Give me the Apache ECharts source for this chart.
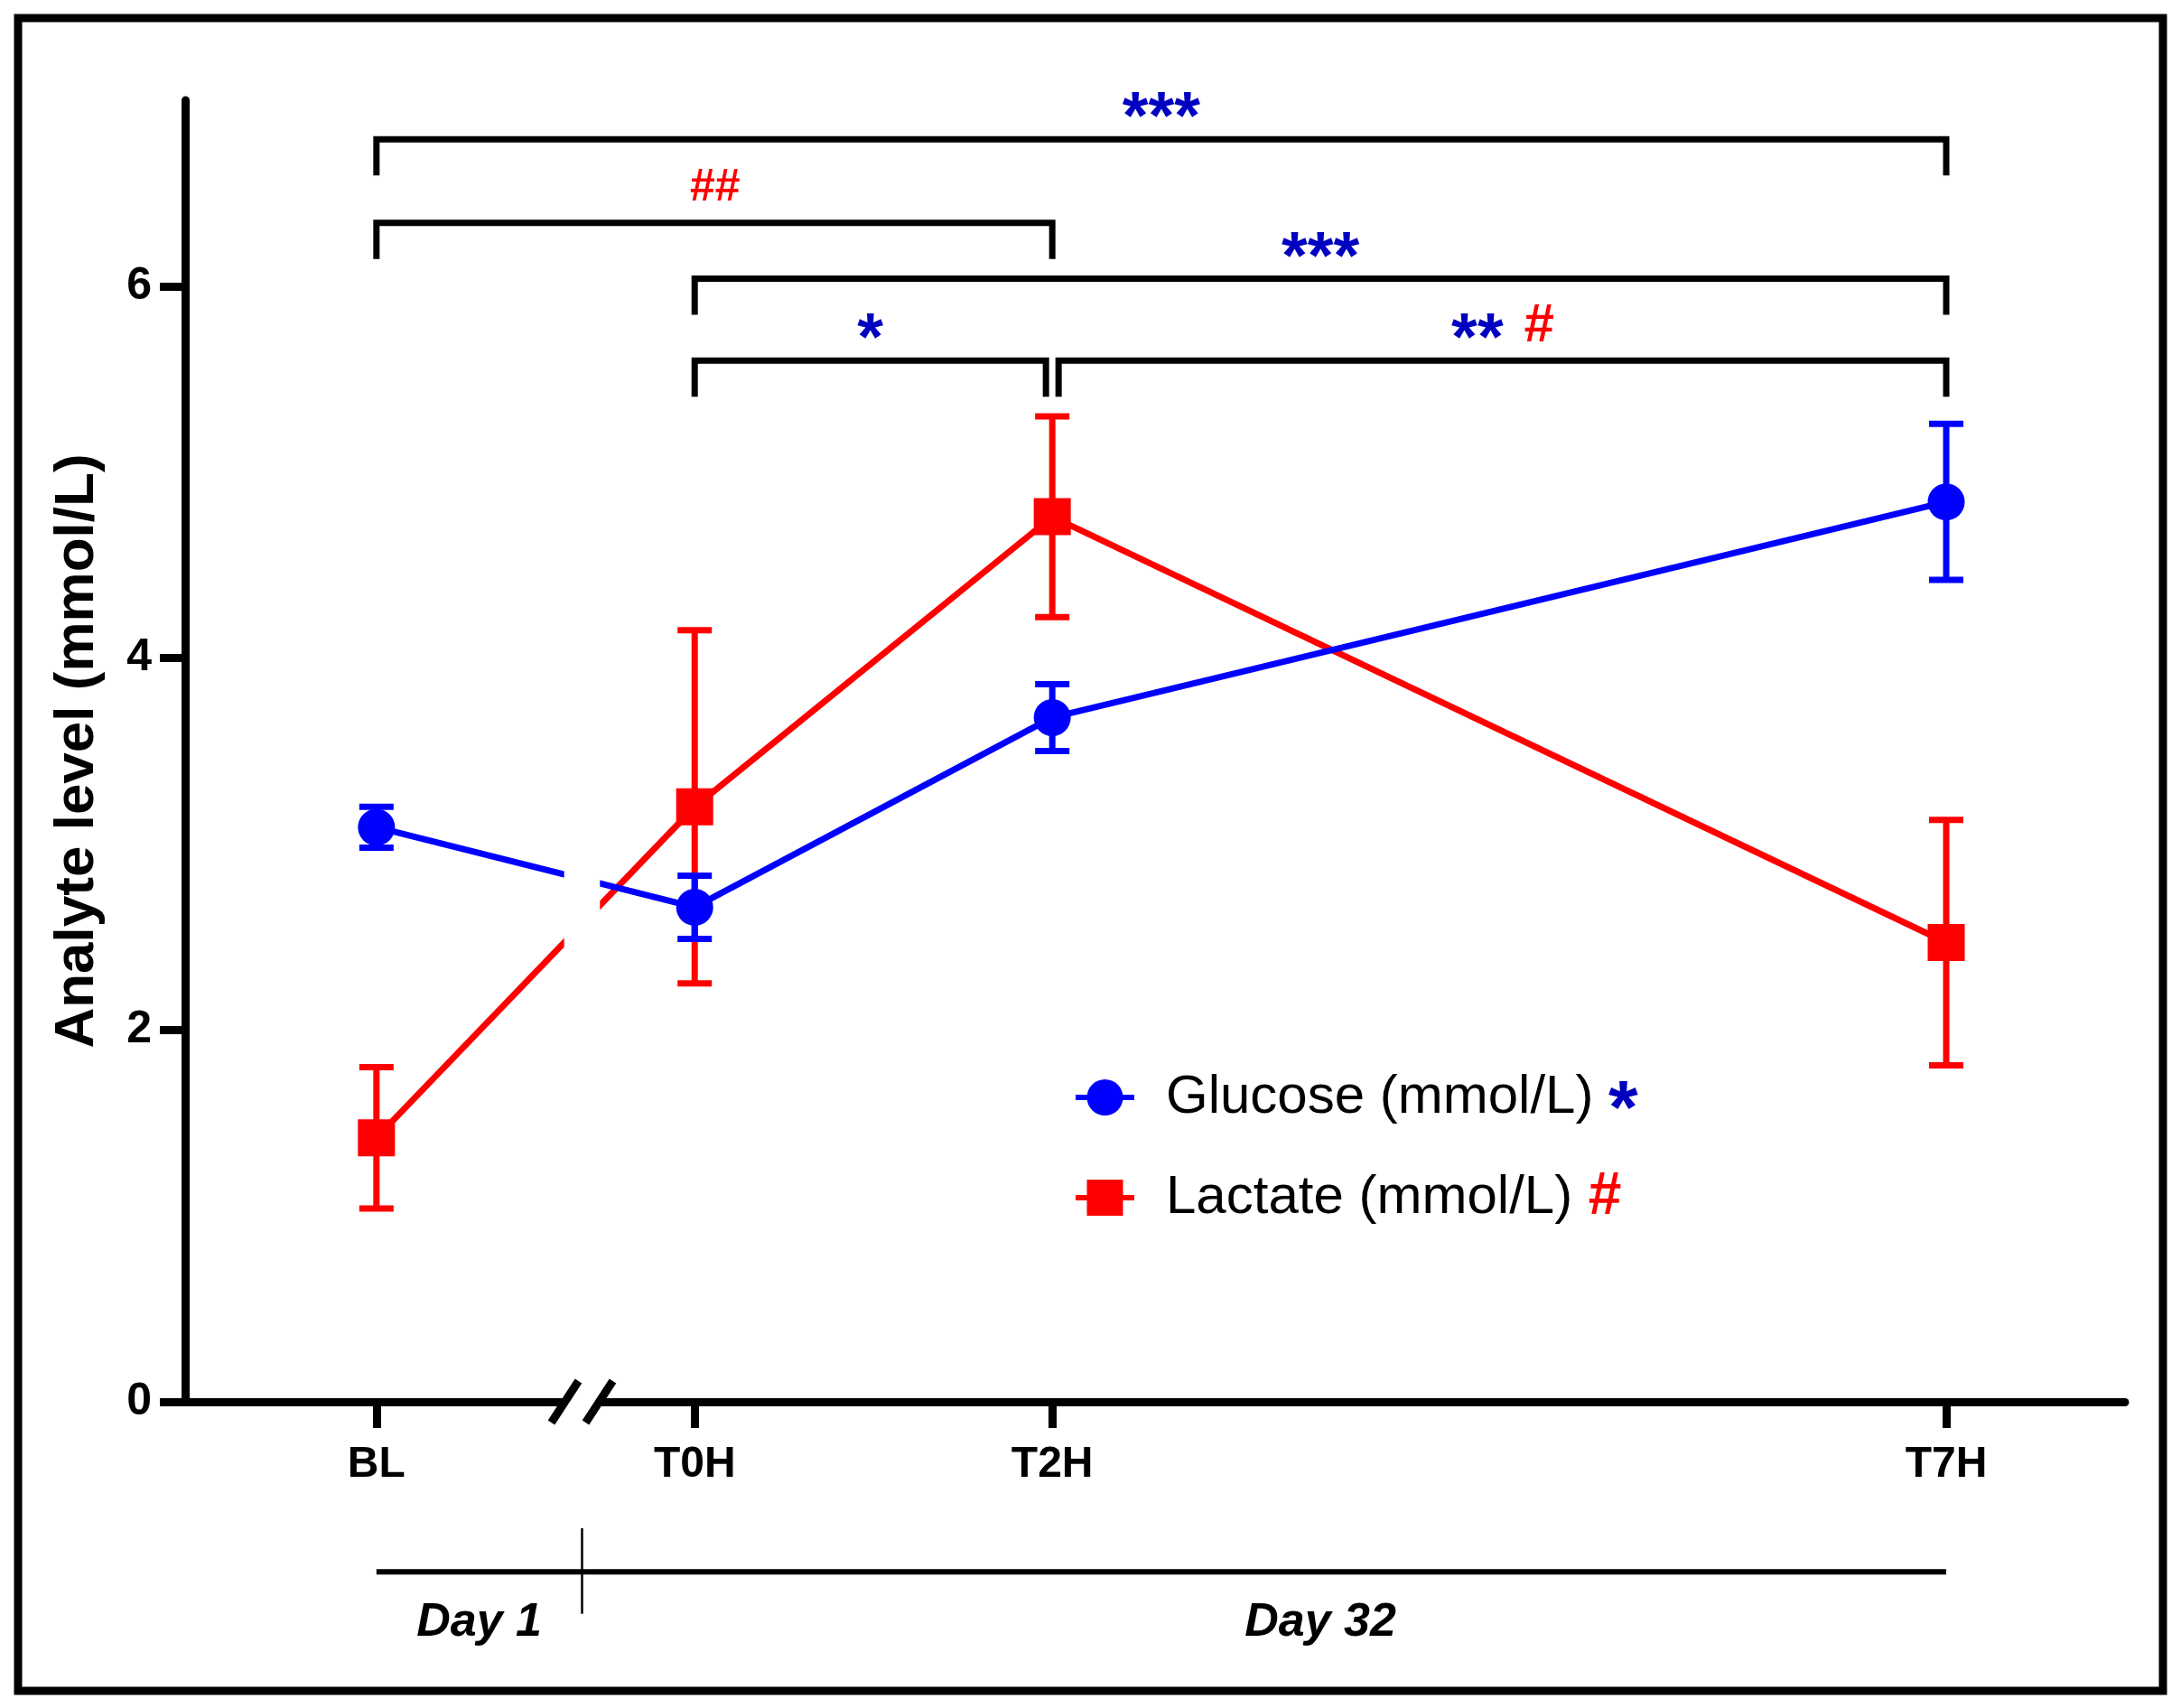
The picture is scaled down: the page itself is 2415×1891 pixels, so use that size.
<!DOCTYPE html>
<html>
<head>
<meta charset="utf-8">
<script src="https://cdn.jsdelivr.net/npm/echarts@6/dist/echarts.min.js"></script>
<style>
html,body{margin:0;padding:0;background:#fff;}
#chart{width:2415px;height:1891px;}
</style>
</head>
<body>
<div id="chart"></div>
<script>
// ---------- data ----------
const timeLabels = ['BL', 'T0H', 'T2H', 'T7H'];
const timeHours = [-1.78, 0, 2, 7];
const glucoseMean = [3.09, 2.66, 3.68, 4.84];
const glucoseSem = [0.11, 0.17, 0.18, 0.42];
const lactateMean = [1.42, 3.20, 4.76, 2.47];
const lactateSem = [0.38, 0.95, 0.54, 0.66];
const yTicks = [0, 2, 4, 6];
const bracketFrom = ['BL', 'BL', 'T0H', 'T0H', 'T2H'];
const bracketTo = ['T7H', 'T2H', 'T7H', 'T2H', 'T7H'];
const bracketLevel = [6.79, 6.34, 6.04, 5.60, 5.60];
const bracketMarks = [[['***', 'g']], [['##', 'l']], [['***', 'g']], [['*', 'g']], [['**', 'g'], ['#', 'l']]];
const periodLabels = ['Day 1', 'Day 32'];
const breakHour = -0.63;
const seriesNames = ['Glucose (mmol/L)', 'Lactate (mmol/L)'];

// ---------- styling ----------
const FONT = "'Liberation Sans', Arial, sans-serif";
const BLUE = '#0000ff', RED = '#ff0000', STAR = '#0000c0';
const hourOf = l => timeHours[timeLabels.indexOf(l)];

const mctx = document.createElement('canvas').getContext('2d');
function measure(text, font) { mctx.font = font; return mctx.measureText(text).width; }

function markStyle(kind, multi) {
  if (kind === 'g') return { fill: STAR, size: 74, weight: 'bold', italic: false, lift: 0.25 };
  return { fill: RED, size: multi ? 60 : 50, weight: 'bold', italic: true, lift: 0.03 };
}

function errorSeries(means, sems, color) {
  return {
    type: 'custom', z: 1, silent: true,
    data: timeHours.map((h, i) => [h, means[i] - sems[i], means[i] + sems[i]]),
    encode: { x: 0, y: [1, 2] },
    renderItem(params, api) {
      const x = api.value(0);
      const lo = api.coord([x, api.value(1)]);
      const hi = api.coord([x, api.value(2)]);
      const hw = 19;
      const style = { stroke: color, lineWidth: 7 };
      return {
        type: 'group', children: [
          { type: 'line', shape: { x1: lo[0], y1: lo[1], x2: hi[0], y2: hi[1] }, style },
          { type: 'line', shape: { x1: lo[0] - hw, y1: lo[1], x2: lo[0] + hw, y2: lo[1] }, style },
          { type: 'line', shape: { x1: hi[0] - hw, y1: hi[1], x2: hi[0] + hw, y2: hi[1] }, style }
        ]
      };
    }
  };
}

const bracketSeries = {
  type: 'custom', z: 4, silent: true,
  data: bracketLevel.map((lv, i) => [hourOf(bracketFrom[i]), hourOf(bracketTo[i]), lv, i]),
  encode: { x: [0, 1], y: 2 },
  renderItem(params, api) {
    const i = api.value(3);
    const a = api.coord([api.value(0), api.value(2)]);
    const b = api.coord([api.value(1), api.value(2)]);
    let inS = 0, inE = 0;
    bracketLevel.forEach((lv, j) => {
      if (j === i || lv !== bracketLevel[i]) return;
      if (bracketTo[j] === bracketFrom[i]) inS = 7;
      if (bracketFrom[j] === bracketTo[i]) inE = 7;
    });
    const leg = 40;
    const x1 = a[0] + inS, x2 = b[0] - inE, y = a[1];
    const children = [{
      type: 'polyline',
      shape: { points: [[x1, y + leg], [x1, y], [x2, y], [x2, y + leg]] },
      style: { stroke: '#000', lineWidth: 7, fill: null }
    }];
    const parts = bracketMarks[i];
    const multi = parts.length > 1;
    const gap = 22;
    const widths = parts.map(p => {
      const s = markStyle(p[1], multi);
      return measure(p[0], (s.italic ? 'italic ' : '') + s.weight + ' ' + s.size + 'px ' + FONT);
    });
    const total = widths.reduce((s, w) => s + w, 0) + gap * (parts.length - 1);
    let cx = (x1 + x2) / 2 - total / 2;
    const glyphY = y - 40;
    parts.forEach((p, k) => {
      const s = markStyle(p[1], multi);
      children.push({
        type: 'text',
        style: {
          x: cx + widths[k] / 2, y: glyphY + s.lift * s.size,
          text: p[0], fill: s.fill, align: 'center', verticalAlign: 'middle',
          font: (s.italic ? 'italic ' : '') + s.weight + ' ' + s.size + 'px ' + FONT
        }
      });
      cx += widths[k] + gap;
    });
    return { type: 'group', children };
  }
};

const periodSeries = {
  type: 'custom', z: 4, silent: true,
  data: [[0, 0]],
  renderItem(params, api) {
    const yl = -0.915;
    const p1 = api.coord([timeHours[0], yl]);
    const p2 = api.coord([timeHours[timeHours.length - 1], yl]);
    const v1 = api.coord([breakHour, -0.68]);
    const v2 = api.coord([breakHour, -1.14]);
    const t1 = api.coord([(timeHours[0] + breakHour) / 2, -1.19]);
    const t2 = api.coord([(timeHours[1] + timeHours[3]) / 2, -1.19]);
    const font = 'italic bold 52px ' + FONT;
    return {
      type: 'group', children: [
        { type: 'line', shape: { x1: p1[0], y1: p1[1], x2: p2[0], y2: p2[1] }, style: { stroke: '#000', lineWidth: 6 } },
        { type: 'line', shape: { x1: v1[0], y1: v1[1], x2: v2[0], y2: v2[1] }, style: { stroke: '#000', lineWidth: 2.5 } },
        { type: 'text', style: { x: t1[0], y: t1[1], text: periodLabels[0], font, fill: '#000', align: 'center', verticalAlign: 'middle' } },
        { type: 'text', style: { x: t2[0], y: t2[1], text: periodLabels[1], font, fill: '#000', align: 'center', verticalAlign: 'middle' } }
      ]
    };
  }
};

const breakSeries = {
  type: 'custom', z: 10, silent: true,
  data: [[breakHour, 0]],
  renderItem(params, api) {
    const c = api.coord([breakHour, 0]);
    const bTop = api.coord([breakHour - 0.1, 3.1]);
    const bBot = api.coord([breakHour + 0.1, 2.2]);
    const d = 19;
    return {
      type: 'group', children: [
        { type: 'rect', shape: { x: bTop[0], y: bTop[1], width: bBot[0] - bTop[0], height: bBot[1] - bTop[1] }, style: { fill: '#fff' } },
        { type: 'rect', shape: { x: c[0] - d, y: c[1] - 7, width: 2 * d, height: 14 }, style: { fill: '#fff' } },
        { type: 'line', shape: { x1: c[0] - d - 15, y1: c[1] + 23, x2: c[0] - d + 15, y2: c[1] - 23 }, style: { stroke: '#000', lineWidth: 9 } },
        { type: 'line', shape: { x1: c[0] + d - 15, y1: c[1] + 23, x2: c[0] + d + 15, y2: c[1] - 23 }, style: { stroke: '#000', lineWidth: 9 } }
      ]
    };
  }
};

const chart = echarts.init(document.getElementById('chart'), null, { renderer: 'canvas' });
chart.setOption({
  animation: false,
  backgroundColor: '#fff',
  graphic: [{
    type: 'rect', z: 100, silent: true,
    shape: { x: 20, y: 20, width: 2375, height: 1852 },
    style: { fill: null, stroke: '#000', lineWidth: 9 }
  }],
  grid: { left: 205, right: 62, top: 111, bottom: 339, outerBoundsMode: 'none' },
  legend: {
    data: seriesNames,
    orient: 'vertical',
    left: 1183, top: 1151,
    itemWidth: 65, itemHeight: 50, itemGap: 17,
    lineStyle: { width: 6 },
    formatter: name => name === seriesNames[0] ? name + ' {g|*}' : name + ' {l|#}',
    textStyle: {
      fontFamily: FONT, fontSize: 60, color: '#000', lineHeight: 70,
      padding: [0, 0, 0, 30],
      rich: {
        g: { fontFamily: FONT, fontSize: 84, fontWeight: 'bold', color: STAR, lineHeight: 70, padding: [34, 0, 0, 0] },
        l: { fontFamily: FONT, fontSize: 66, fontWeight: 'bold', fontStyle: 'italic', color: RED, lineHeight: 70 }
      }
    }
  },
  xAxis: {
    type: 'value', min: -2.85, max: 8,
    splitLine: { show: false },
    axisLine: { onZero: false, lineStyle: { color: '#000', width: 9 } },
    axisTick: { customValues: timeHours, length: 29, lineStyle: { color: '#000', width: 9 } },
    axisLabel: {
      customValues: timeHours, margin: 46,
      fontFamily: FONT, fontSize: 48, fontWeight: 'bold', color: '#000',
      formatter: v => { const i = timeHours.findIndex(h => Math.abs(h - v) < 1e-6); return i >= 0 ? timeLabels[i] : ''; }
    }
  },
  yAxis: {
    type: 'value', min: 0, max: 7,
    name: 'Analyte level (mmol/L)', nameLocation: 'middle', nameGap: 88,
    nameTextStyle: { fontFamily: FONT, fontSize: 62, fontWeight: 'bold', color: '#000' },
    splitLine: { show: false },
    axisLine: { show: true, onZero: false, lineStyle: { color: '#000', width: 9 } },
    axisTick: { show: true, customValues: yTicks, length: 28, lineStyle: { color: '#000', width: 9 } },
    axisLabel: { customValues: yTicks, margin: 37, fontFamily: FONT, fontSize: 50, fontWeight: 'bold', color: '#000' }
  },
  series: [
    errorSeries(lactateMean, lactateSem, RED),
    errorSeries(glucoseMean, glucoseSem, BLUE),
    {
      name: seriesNames[1], type: 'line', z: 2,
      data: timeHours.map((h, i) => [h, lactateMean[i]]),
      symbol: 'rect', symbolSize: 41,
      lineStyle: { color: RED, width: 7 }, itemStyle: { color: RED }
    },
    {
      name: seriesNames[0], type: 'line', z: 2,
      data: timeHours.map((h, i) => [h, glucoseMean[i]]),
      symbol: 'circle', symbolSize: 41,
      lineStyle: { color: BLUE, width: 7 }, itemStyle: { color: BLUE }
    },
    bracketSeries,
    periodSeries,
    breakSeries
  ]
});
</script>
</body>
</html>
